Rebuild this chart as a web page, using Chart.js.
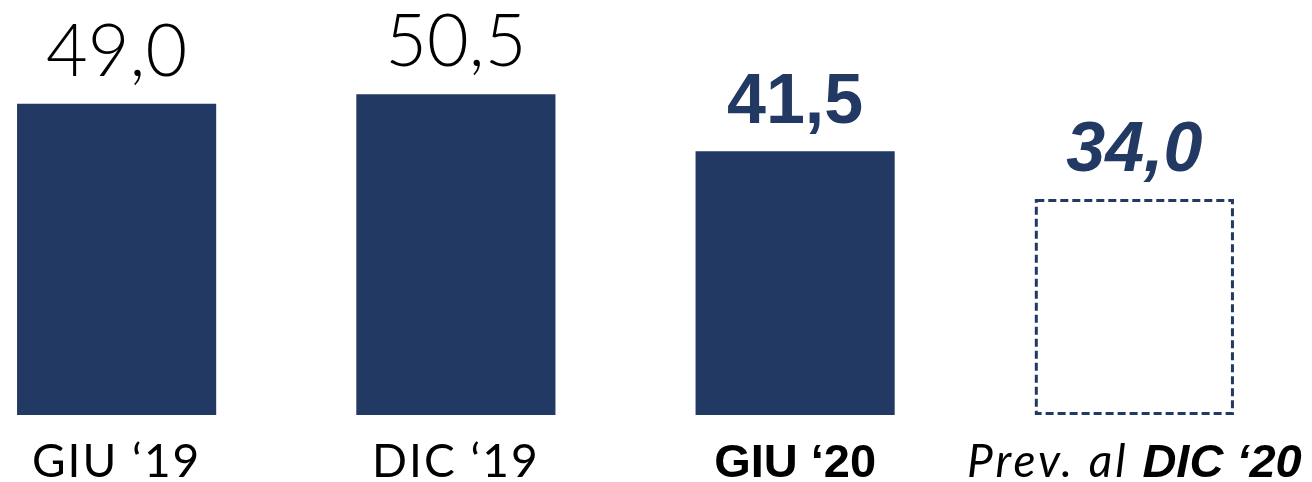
<!DOCTYPE html>
<html>
<head>
<meta charset="utf-8">
<script src="https://cdn.jsdelivr.net/npm/chart.js@4.4.1/dist/chart.umd.min.js"></script>
<style>
  html, body { margin: 0; padding: 0; background: #ffffff; overflow: hidden; }
  #wrap { position: absolute; left: -53px; top: 0; width: 1420px; height: 482px; }
</style>
</head>
<body>
<div id="wrap"><canvas id="c" width="1420" height="482"></canvas></div>
<script>
// Periods and values (miliardi)
const categories = ['GIU \u201819', 'DIC \u201819', 'GIU \u201820', 'Prev. al DIC \u201820'];
const values = [49.0, 50.5, 41.5, 34.0];
const valueLabels = ['49,0', '50,5', '41,5', '34,0'];
// Label pieces: [text, style] where style picks the font used for that piece
const categoryParts = [
  [['GIU \u201819', 'light']],
  [['DIC \u201819', 'light']],
  [['GIU \u201820', 'bold']],
  [['Prev. al ', 'lightItalic'], ['DIC \u201820', 'boldItalic']]
];

const NAVY = '#213963';
const LIGHT = '"Lato", "DejaVu Sans", sans-serif';
const BOLD = '"Liberation Sans", Arial, sans-serif';

const catFonts = {
  light: { font: '400 46px ' + LIGHT, spacing: '2px' },
  lightItalic: { font: 'italic 400 46px ' + LIGHT, spacing: '3px' },
  bold: { font: 'bold 47px ' + BOLD, spacing: '0px' },
  boldItalic: { font: 'italic bold 47px ' + BOLD, spacing: '0px' }
};
const valueFonts = [
  { font: '300 72px ' + LIGHT, color: '#000000' },
  { font: '300 72px ' + LIGHT, color: '#000000' },
  { font: 'bold 70px ' + BOLD, color: NAVY },
  { font: 'italic bold 70px ' + BOLD, color: NAVY }
];

// Forecast bar: dashed outline instead of a fill
const dashedOutline = {
  id: 'dashedOutline',
  afterDatasetsDraw(chart) {
    const el = chart.getDatasetMeta(0).data[3];
    const { x, y, base, width } = el.getProps(['x', 'y', 'base', 'width'], true);
    const ctx = chart.ctx;
    ctx.save();
    ctx.strokeStyle = NAVY;
    ctx.lineWidth = 3;
    ctx.setLineDash([8, 4]);
    ctx.strokeRect(x - width / 2 + 1.5, y + 1.5, width - 3, base - y - 3);
    ctx.restore();
  }
};

// Values above bars
const valueText = {
  id: 'valueText',
  afterDatasetsDraw(chart) {
    const ctx = chart.ctx;
    chart.getDatasetMeta(0).data.forEach((el, i) => {
      ctx.save();
      ctx.font = valueFonts[i].font;
      ctx.fillStyle = valueFonts[i].color;
      ctx.textAlign = 'center';
      ctx.textBaseline = 'alphabetic';
      ctx.fillText(valueLabels[i], el.x, el.y - 28);
      ctx.restore();
    });
  }
};

// Category labels under bars, with mixed styles inside one label
const categoryText = {
  id: 'categoryText',
  afterDraw(chart) {
    const ctx = chart.ctx;
    const xScale = chart.scales.x;
    categoryParts.forEach((parts, i) => {
      const cx = xScale.getPixelForValue(i);
      ctx.save();
      ctx.fillStyle = '#000000';
      ctx.textBaseline = 'alphabetic';
      ctx.textAlign = 'left';
      const setFont = (s) => { ctx.font = catFonts[s].font; ctx.letterSpacing = catFonts[s].spacing; };
      let total = 0;
      parts.forEach(([t, s]) => { setFont(s); total += ctx.measureText(t).width; });
      let x = cx - total / 2;
      parts.forEach(([t, s]) => {
        setFont(s);
        ctx.fillText(t, x, 477);
        x += ctx.measureText(t).width;
      });
      ctx.restore();
    });
  }
};

new Chart(document.getElementById('c'), {
  type: 'bar',
  data: {
    labels: categories,
    datasets: [{
      data: values,
      backgroundColor: [NAVY, NAVY, NAVY, 'rgba(0,0,0,0)'],
      borderWidth: 0,
      barPercentage: 1,
      categoryPercentage: 0.587
    }]
  },
  options: {
    responsive: false,
    animation: false,
    layout: { padding: { left: 0, right: 63, top: 2, bottom: 67 } },
    plugins: { legend: { display: false }, tooltip: { enabled: false } },
    scales: {
      x: { display: false },
      y: { display: false, min: 0, max: 65 }
    }
  },
  plugins: [dashedOutline, valueText, categoryText]
});
</script>
</body>
</html>
